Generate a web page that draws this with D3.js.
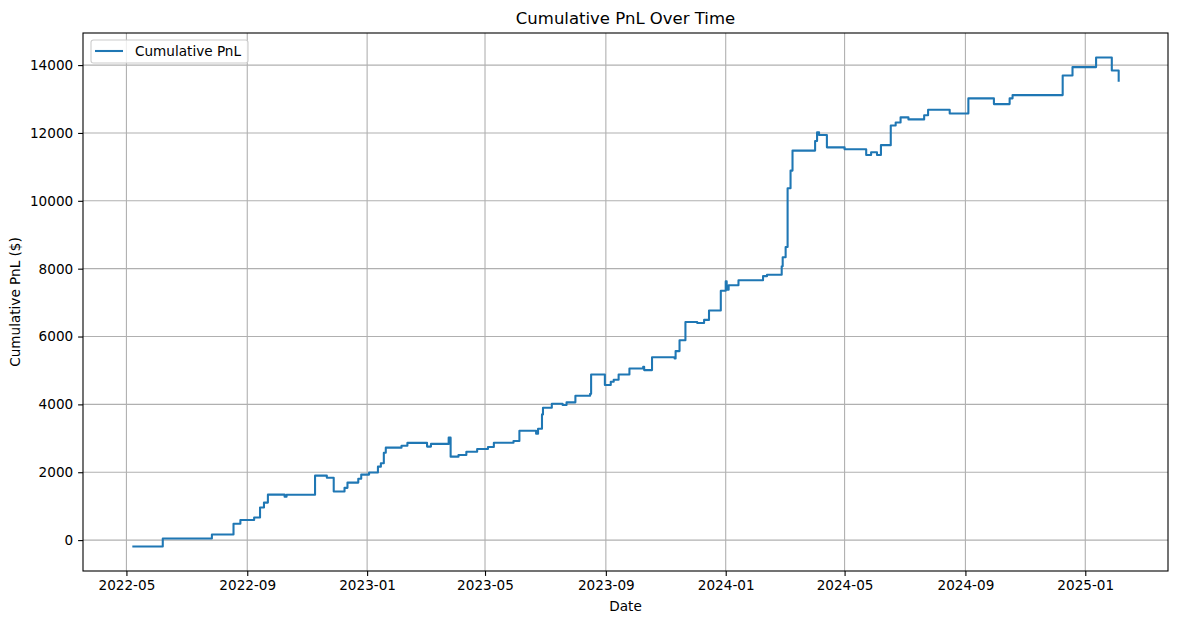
<!DOCTYPE html>
<html>
<head>
<meta charset="utf-8">
<script src="https://cdn.jsdelivr.net/npm/d3@7"></script>
<style>
  html, body { margin: 0; padding: 0; background: #fff; }
  svg { display: block; font-family: "DejaVu Sans", sans-serif; }
</style>
</head>
<body>
<svg id="chart" width="1178" height="624"></svg>
<script>
// ---- Data ----
const dates = [
  "2022-05-07","2022-06-07","2022-07-27","2022-08-18","2022-08-25","2022-09-08","2022-09-14","2022-09-18",
  "2022-09-22","2022-10-09","2022-10-11","2022-11-09","2022-11-21","2022-11-28","2022-12-09","2022-12-12",
  "2022-12-23","2022-12-26","2023-01-03","2023-01-12","2023-01-15","2023-01-18","2023-01-20","2023-02-05",
  "2023-02-11","2023-03-03","2023-03-07","2023-03-25","2023-03-27","2023-04-04","2023-04-12","2023-04-23",
  "2023-05-04","2023-05-10","2023-05-30","2023-06-05","2023-06-22","2023-06-24","2023-06-28","2023-06-29",
  "2023-07-08","2023-07-19","2023-07-23","2023-08-01","2023-08-16","2023-08-17","2023-08-31","2023-09-06",
  "2023-09-09","2023-09-14","2023-09-25","2023-10-09","2023-10-10","2023-10-18","2023-11-10","2023-11-11",
  "2023-11-15","2023-11-21","2023-12-03","2023-12-10","2023-12-15","2023-12-27","2024-01-01","2024-01-02",
  "2024-01-04","2024-01-14","2024-02-08","2024-02-12","2024-02-27","2024-02-28","2024-03-02","2024-03-04",
  "2024-03-07","2024-03-09","2024-04-01","2024-04-03","2024-04-05","2024-04-13","2024-05-01","2024-05-23",
  "2024-05-28","2024-06-03","2024-06-07","2024-06-17","2024-06-22","2024-06-27","2024-07-05","2024-07-21",
  "2024-07-25","2024-08-16","2024-09-04","2024-09-30","2024-10-16","2024-10-19","2024-12-09","2024-12-19",
  "2025-01-12","2025-01-28","2025-02-04"
];
const pnl = [
  -190, 45, 165, 480, 590, 665, 960, 1105,
  1340, 1280, 1335, 1900, 1840, 1430, 1540, 1695,
  1810, 1930, 1990, 2165, 2265, 2575, 2725, 2780,
  2865, 2755, 2835, 3020, 2460, 2510, 2605, 2685,
  2745, 2870, 2920, 3225, 3135, 3280, 3705, 3900,
  4020, 3980, 4060, 4255, 4310, 4880, 4570, 4665,
  4725, 4880, 5060, 5110, 5010, 5390, 5350, 5570,
  5890, 6430, 6400, 6490, 6765, 7350, 7625, 7380,
  7510, 7660, 7780, 7820, 8070, 8335, 8640, 10370,
  10890, 11480, 11765, 12020, 11940, 11575, 11518, 11350,
  11430, 11350, 11640, 12220, 12310, 12460, 12400, 12520,
  12685, 12575, 13020, 12850, 13020, 13115, 13695, 13940,
  14225, 13840, 13510
];
const xTickLabels = ["2022-05","2022-09","2023-01","2023-05","2023-09","2024-01","2024-05","2024-09","2025-01"];
const yTickValues = [0, 2000, 4000, 6000, 8000, 10000, 12000, 14000];
const seriesName = "Cumulative PnL";

// ---- Layout ----
const W = 1178, H = 624;
const margin = { left: 83, right: 10, top: 33, bottom: 53 };
const plotW = W - margin.left - margin.right;
const plotH = H - margin.top - margin.bottom;
const FONT = "13.6px";

const parse = d3.timeParse("%Y-%m-%d");
const parseM = d3.timeParse("%Y-%m");
const data = dates.map((d, i) => ({ date: parse(d), value: pnl[i] }));

const svg = d3.select("#chart");
const g = svg.append("g").attr("transform", `translate(${margin.left},${margin.top})`);

// scales with 5% padding like matplotlib
const [d0, d1] = d3.extent(data, d => d.date);
const span = d1 - d0;
const x = d3.scaleTime()
  .domain([new Date(+d0 - span * 0.05), new Date(+d1 + span * 0.05)])
  .range([0, plotW]);
const [v0, v1] = d3.extent(data, d => d.value);
const vs = v1 - v0;
const y = d3.scaleLinear()
  .domain([v0 - vs * 0.05, v1 + vs * 0.05])
  .range([plotH, 0]);

const xTicks = xTickLabels.map(parseM);

// grid
g.append("g").selectAll("line").data(xTicks).enter().append("line")
  .attr("x1", d => x(d)).attr("x2", d => x(d))
  .attr("y1", 0).attr("y2", plotH)
  .attr("stroke", "#b0b0b0").attr("stroke-width", 1.1);
g.append("g").selectAll("line").data(yTickValues).enter().append("line")
  .attr("x1", 0).attr("x2", plotW)
  .attr("y1", d => y(d)).attr("y2", d => y(d))
  .attr("stroke", "#b0b0b0").attr("stroke-width", 1.1);

// line
const line = d3.line()
  .x(d => x(d.date))
  .y(d => y(d.value))
  .curve(d3.curveStepAfter);
g.append("path").datum(data)
  .attr("d", line)
  .attr("fill", "none")
  .attr("stroke", "#1f77b4")
  .attr("stroke-width", 2.08)
  .attr("stroke-linejoin", "round")
  .attr("stroke-linecap", "butt");

// axes
const xAxis = d3.axisBottom(x).tickValues(xTicks).tickFormat(d3.timeFormat("%Y-%m"))
  .tickSize(4.9).tickPadding(4.9).tickSizeOuter(0);
const gx = g.append("g").attr("transform", `translate(0,${plotH})`).call(xAxis);
const yAxis = d3.axisLeft(y).tickValues(yTickValues).tickFormat(d3.format("d"))
  .tickSize(4.9).tickPadding(4.9).tickSizeOuter(0);
const gy = g.append("g").call(yAxis);
[gx, gy].forEach(a => {
  a.select(".domain").remove();
  a.selectAll(".tick line").attr("stroke", "#000").attr("stroke-width", 1.1);
  a.selectAll(".tick text").attr("fill", "#000")
    .style("font-family", "DejaVu Sans").style("font-size", FONT);
});

// frame
g.append("rect").attr("x", 0).attr("y", 0).attr("width", plotW).attr("height", plotH)
  .attr("fill", "none").attr("stroke", "#000").attr("stroke-width", 1.1);

// title and labels
svg.append("text").attr("x", margin.left + plotW / 2).attr("y", 24)
  .attr("text-anchor", "middle").style("font-size", "16.5px").text("Cumulative PnL Over Time");
svg.append("text").attr("x", margin.left + plotW / 2).attr("y", 611)
  .attr("text-anchor", "middle").style("font-size", FONT).text("Date");
svg.append("text")
  .attr("transform", `translate(20,${margin.top + plotH / 2}) rotate(-90)`)
  .attr("text-anchor", "middle").style("font-size", FONT).text("Cumulative PnL ($)");

// legend
const lg = svg.append("g").attr("transform", "translate(91,40)");
lg.append("rect").attr("width", 157).attr("height", 23).attr("rx", 2.5)
  .attr("fill", "#fff").attr("fill-opacity", 0.8).attr("stroke", "#cccccc").attr("stroke-width", 1.1);
lg.append("line").attr("x1", 4).attr("x2", 32).attr("y1", 11).attr("y2", 11)
  .attr("stroke", "#1f77b4").attr("stroke-width", 2.08);
lg.append("text").attr("x", 44).attr("y", 16).style("font-size", FONT).text(seriesName);
</script>
</body>
</html>
